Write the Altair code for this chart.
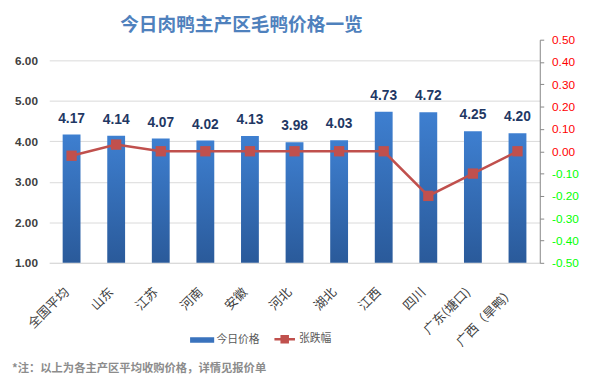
import altair as alt
import pandas as pd

CATS = ["全国平均", "山东", "江苏", "河南", "安徽", "河北", "湖北", "江西", "四川", "广东(塘口)", "广西（旱鸭）"]
PRICE = [4.17, 4.14, 4.07, 4.02, 4.13, 3.98, 4.03, 4.73, 4.72, 4.25, 4.20]
CHANGE = [-0.02, 0.03, 0.00, 0.00, 0.00, 0.00, 0.00, 0.00, -0.20, -0.10, 0.00]
SERIES = ["今日价格", "张跌幅"]
LEFT_TICKS = [1, 2, 3, 4, 5, 6]
RIGHT_TICKS = [-0.5, -0.4, -0.3, -0.2, -0.1, 0.0, 0.1, 0.2, 0.3, 0.4, 0.5]
TITLE = "今日肉鸭主产区毛鸭价格一览"
NOTE = "*注：以上为各主产区平均收购价格，详情见报价单"

FONT = "Noto Sans CJK SC"
df = pd.DataFrame({"cat": CATS, "price": PRICE, "chg": CHANGE})

xscale = alt.Scale(domain=CATS, paddingInner=0.6, paddingOuter=0.3)
xaxis = alt.Axis(labelAngle=-45, labelAlign="right", labelBaseline="top", labelFontSize=13,
                 labelColor="#404040", labelPadding=23, labelOffset=-9, ticks=False,
                 domainColor="#D9D9D9", title=None, labelFont=FONT)
X = alt.X("cat:N", sort=CATS, scale=xscale, axis=xaxis)

grad = alt.Gradient(gradient="linear", x1=0, x2=0, y1=0, y2=1,
                    stops=[alt.GradientStop(color="#3E7FD0", offset=0),
                           alt.GradientStop(color="#2A5A9A", offset=1)])

left_scale = alt.Scale(domain=[1, 6.51], nice=False, zero=False)
left_axis = alt.Axis(values=LEFT_TICKS, format=".2f", orient="left", title=None,
                     labelFontWeight="bold", labelColor="#404040", labelFontSize=12,
                     labelPadding=12, ticks=False, domain=False, gridColor="#D9D9D9",
                     labelFont="Liberation Sans")
bars = alt.Chart(df).mark_bar(fill=grad).encode(
    x=X, y=alt.Y("price:Q", scale=left_scale, axis=left_axis), y2=alt.datum(1))
labels = alt.Chart(df).mark_text(dy=-9, baseline="bottom", fontWeight="bold", fontSize=14,
                                 color="#1F3864", font="Liberation Sans").encode(
    x=X, y=alt.Y("price:Q", scale=left_scale, axis=left_axis),
    text=alt.Text("price:Q", format=".2f"))
left = alt.layer(bars, labels)

right_scale = alt.Scale(domain=[-0.5, 0.5], nice=False, zero=False)
right_axis = alt.Axis(values=RIGHT_TICKS, orient="right", title=None, grid=False,
                      labelExpr="replace(format(datum.value, '.2f'), '\u2212', '-')",
                      labelColor={"condition": {"test": "datum.value < 0", "value": "#00FF00"},
                                  "value": "#FF0000"},
                      labelOverlap=False, labelSeparation=0, labelBound=False, tickCount=11,
                      labelFontSize=12, labelPadding=8, tickSize=4, tickColor="#868686",
                      domainColor="#868686", labelFont="Liberation Sans")
line = alt.Chart(df).mark_line(color="#C0504D", strokeWidth=2.5).encode(
    x=X, y=alt.Y("chg:Q", scale=right_scale, axis=right_axis))
pts = alt.Chart(df).mark_point(shape="square", filled=True, size=110, color="#C0504D", opacity=1).encode(
    x=X, y=alt.Y("chg:Q", scale=right_scale, axis=right_axis))
right = alt.layer(line, pts)

leg_df = pd.DataFrame({"s": SERIES})
leg = alt.Legend(title=None, orient="none", legendX=143, legendY=292, direction="horizontal",
                 labelFontSize=11, labelColor="#595959", labelFont=FONT, symbolStrokeWidth=2.5,
                 labelOffset=2, columnPadding=10, symbolSize=484, symbolOpacity=1)
RECT = "M-1,-0.14H1V0.14H-1Z"
LINEP = "M-0.95,0H0.95M-0.28,-0.28H0.28V0.28H-0.28Z"
legend_layer = alt.Chart(leg_df).mark_point(filled=True, size=484, opacity=0).encode(
    x=alt.value(0), y=alt.value(100),
    color=alt.Color("s:N", scale=alt.Scale(domain=SERIES, range=["#3A73BD", "#C0504D"]), legend=leg),
    stroke=alt.Stroke("s:N", scale=alt.Scale(domain=SERIES, range=["#3A73BD", "#C0504D"]), legend=leg),
    shape=alt.Shape("s:N", scale=alt.Scale(domain=SERIES, range=[RECT, LINEP]), legend=leg),
)

note = alt.Chart(pd.DataFrame({"t": [NOTE]})).mark_text(
    align="left", baseline="middle", fontSize=11.5, fontWeight="bold", color="#8C8C8C", font=FONT
).encode(x=alt.value(-38), y=alt.value(335), text="t:N")

chart = alt.layer(left, right, legend_layer, note).resolve_scale(y="independent").properties(
    width=499, height=227,
    title=alt.TitleParams(TITLE, anchor="middle", frame="group", dx=-54, dy=3, fontSize=19, font=FONT,
                          fontWeight="bold", color="#4F81BD", offset=2),
    autosize=alt.AutoSizeParams(type="none"),
    padding={"left": 42, "top": 29, "right": 46, "bottom": 119},
).configure_view(stroke=None)

chart.save("out.html", embed_options={"renderer": "svg", "actions": False})
